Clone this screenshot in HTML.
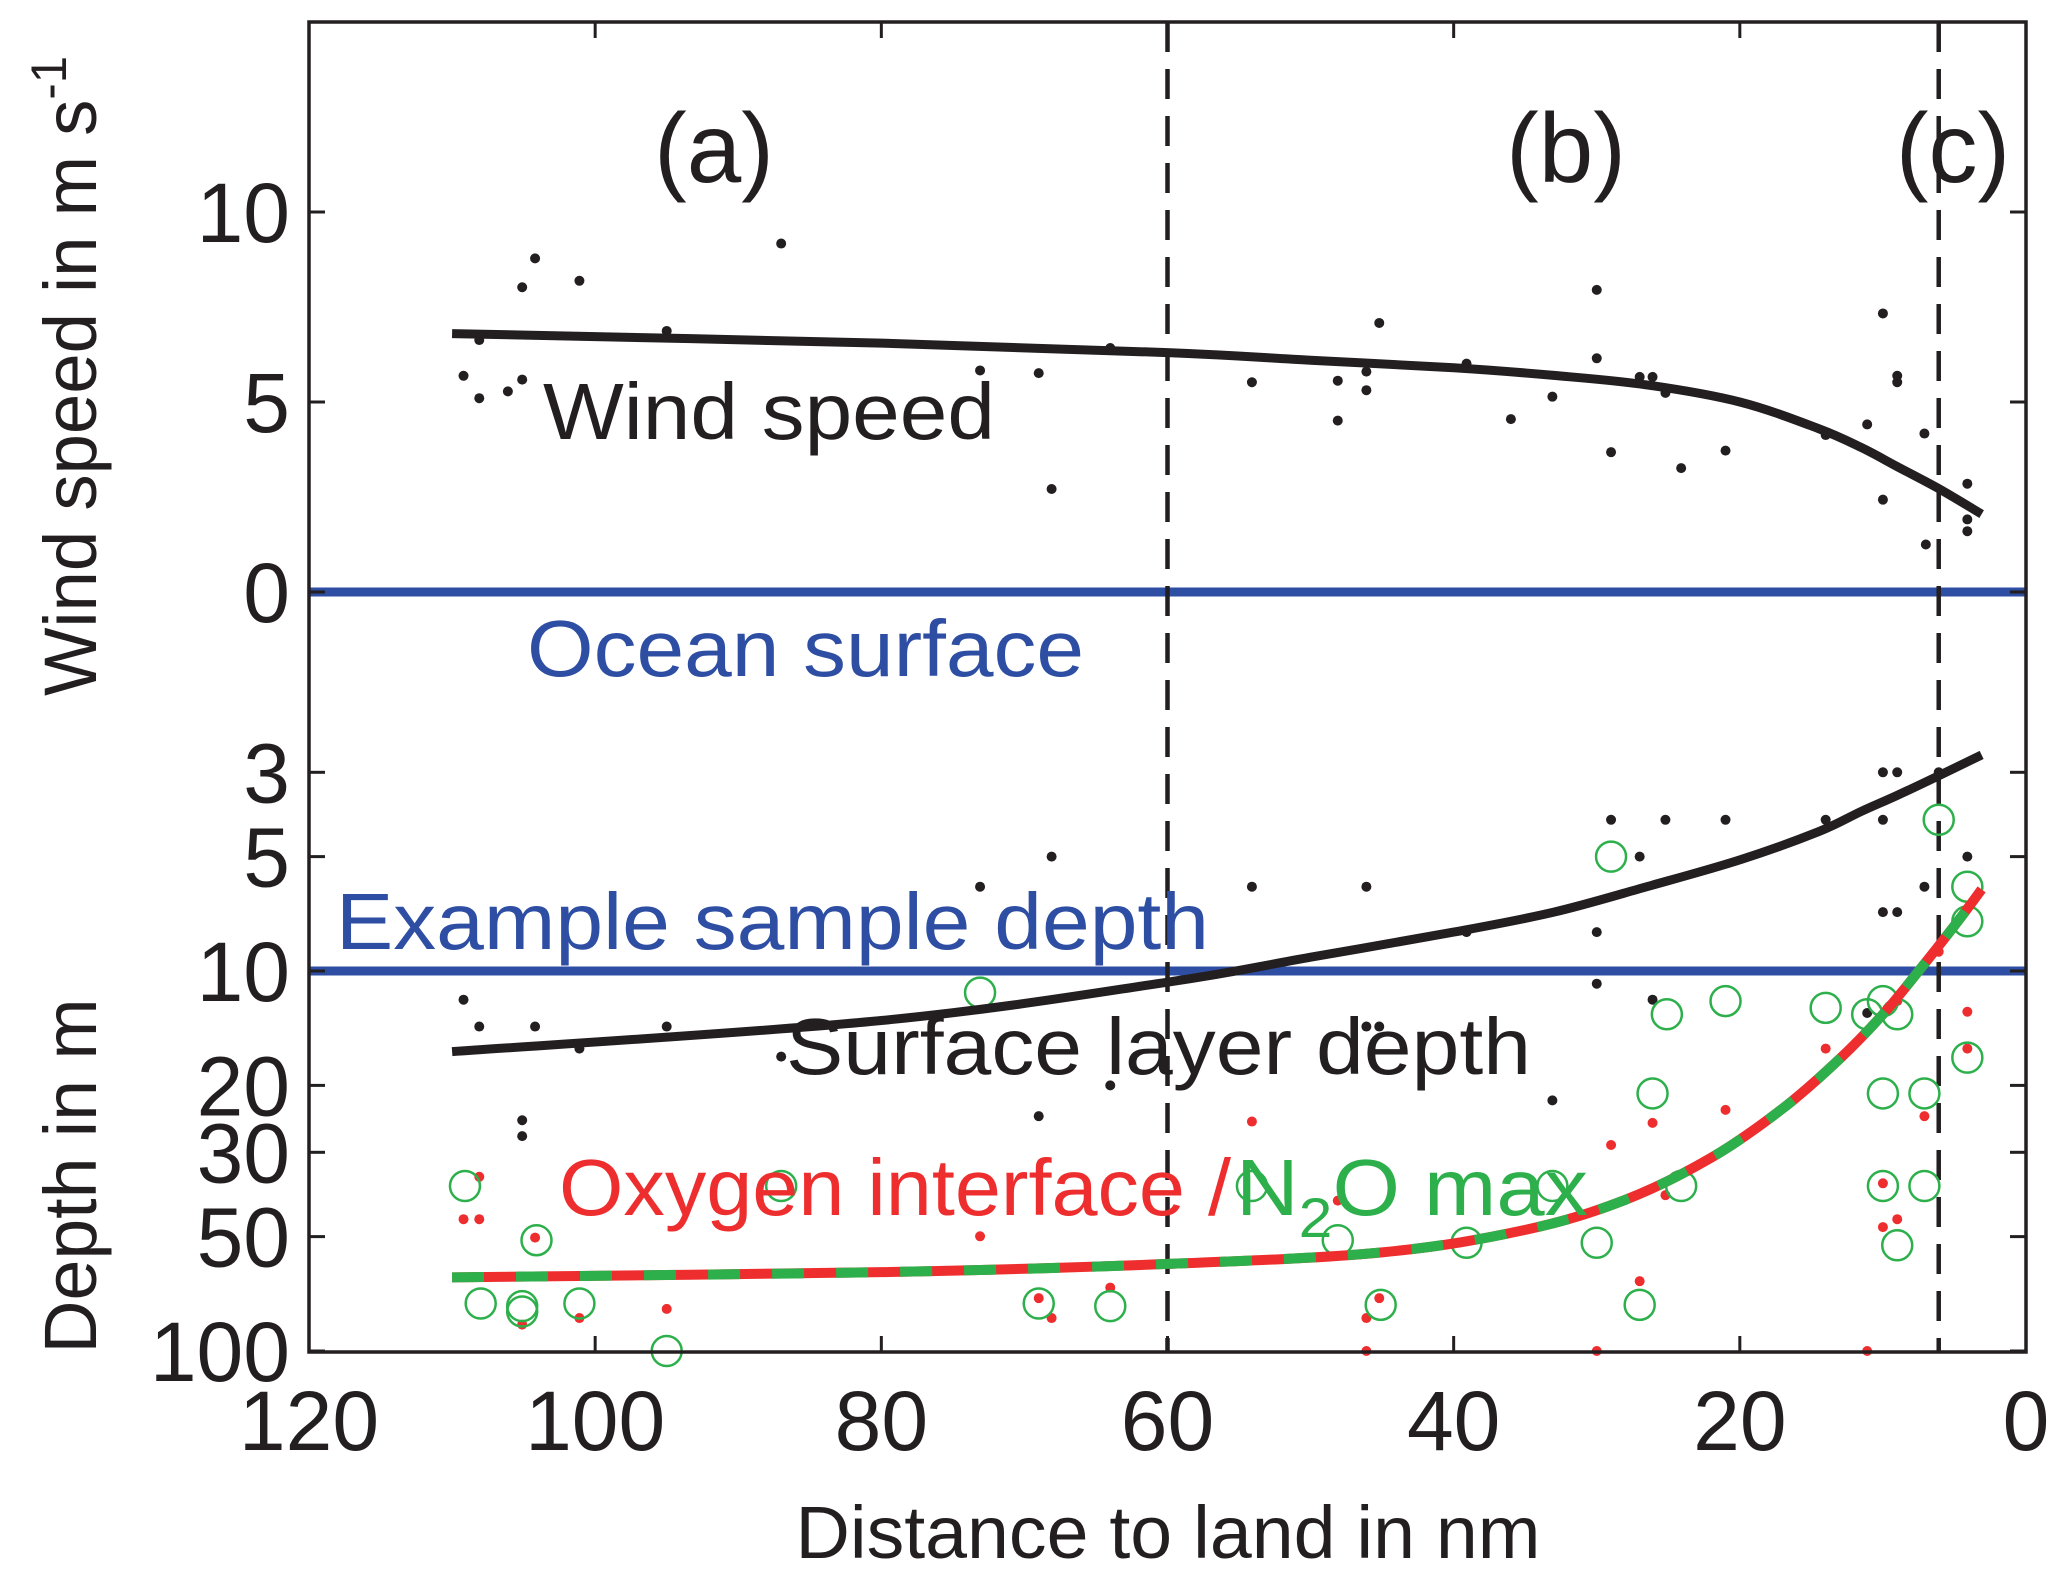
<!DOCTYPE html>
<html><head><meta charset="utf-8"><style>
html,body{margin:0;padding:0;background:#fff;}
svg{display:block;font-family:"Liberation Sans",Arial,sans-serif;}
</style></head><body>
<svg id="chart" width="2067" height="1582" viewBox="0 0 2067 1582" xmlns="http://www.w3.org/2000/svg">
<g id="marks"></g>
<g id="frame"></g>
<g id="labels">
<text x="714" y="182" font-size="98" text-anchor="middle" fill="#231f20">(a)</text>
<text x="1566" y="182" font-size="98" text-anchor="middle" fill="#231f20">(b)</text>
<text x="1953" y="182" font-size="98" text-anchor="middle" fill="#231f20">(c)</text>
<text x="543" y="439" font-size="80" textLength="452" lengthAdjust="spacingAndGlyphs" fill="#231f20">Wind speed</text>
<text x="527" y="676" font-size="80" textLength="557" lengthAdjust="spacingAndGlyphs" fill="#2e4ea3">Ocean surface</text>
<text x="336" y="949" font-size="80" textLength="873" lengthAdjust="spacingAndGlyphs" fill="#2e4ea3">Example sample depth</text>
<text x="786" y="1074" font-size="80" textLength="745" lengthAdjust="spacingAndGlyphs" fill="#231f20">Surface layer depth</text>
<text x="559" y="1215" font-size="80" textLength="672" lengthAdjust="spacingAndGlyphs" fill="#ee2e2e">Oxygen interface /</text>
<text x="1236" y="1215" font-size="80" fill="#2db04b" textLength="352" lengthAdjust="spacingAndGlyphs">N<tspan font-size="56" dy="22">2</tspan><tspan dy="-22">O max</tspan></text>
<text transform="translate(96,376) rotate(-90)" font-size="74" text-anchor="middle" textLength="640" lengthAdjust="spacingAndGlyphs" fill="#231f20">Wind speed in m s<tspan font-size="50" dy="-30">-1</tspan></text>
<text transform="translate(96,1176) rotate(-90)" font-size="74" text-anchor="middle" textLength="355" lengthAdjust="spacingAndGlyphs" fill="#231f20">Depth in m</text>
<text x="1168" y="1558" font-size="74" text-anchor="middle" textLength="745" lengthAdjust="spacingAndGlyphs" fill="#231f20">Distance to land in nm</text>
</g>
</svg>
<script>
// ---- data ----
const xTicks = [120,100,80,60,40,20,0];
const windTicks = [0,5,10];
const depthTicks = [3,5,10,20,30,50,100];
const regionBounds = [60, 6.1];
const windFitX = [110,80,60,50,40,33,26.5,20,14.5,11.5,9,6,3.1];
const windFitY = [6.8,6.55,6.3,6.1,5.9,5.7,5.45,5.0,4.3,3.8,3.3,2.7,2.05];
const windDotX = [109.2,108.1,108.1,106.1,105.1,105.1,104.2,101.1,95.0,87.0,73.1,69.0,68.1,64.0,54.1,48.1,48.1,46.1,46.1,45.2,39.1,36.0,33.1,30.0,30.0,29.0,27.0,26.1,25.2,24.1,21.0,14.0,11.1,10.0,10.0,9.0,9.0,7.1,7.0,4.1,4.1,4.1];
const windDotY = [5.69,6.63,5.10,5.28,8.02,5.59,8.78,8.19,6.87,9.17,5.83,5.76,2.71,6.42,5.52,5.56,4.51,5.80,5.31,7.08,6.01,4.55,5.14,7.95,6.15,3.68,5.66,5.66,5.24,3.26,3.72,4.13,4.41,7.33,2.43,5.69,5.52,4.17,1.25,2.85,1.91,1.60];
const sldFitX = [110,80,60,50,40,33,26.5,20,14.5,11.5,9,6,3.1];
const sldFitY = [16.3,13.5,10.7,9.2,7.9,7.0,6.0,5.1,4.3,3.8,3.45,3.05,2.7];
const sldDotX = [109.2,108.1,104.2,101.1,95.0,87.0,73.1,69.0,68.1,64.0,54.1,46.1,46.1,45.2,39.1,33.1,30.0,30.0,29.0,27.0,26.1,25.2,21.0,14.0,11.1,10.0,10.0,10.0,9.0,9.0,7.1,6.1,4.1,105.1,105.1];
const sldDotY = [11.9,14.0,14.0,16.0,14.0,16.8,6.0,24.1,5.0,20.0,6.0,6.0,14.0,14.0,7.9,21.9,7.9,10.8,4.0,5.0,11.9,4.0,4.0,4.0,12.9,3.0,4.0,7.0,3.0,7.0,6.0,3.0,5.0,24.7,27.2];
const oxyFitX = [110,80,60,45,35,28,22,17,13,10,7.5,5,3.1];
const oxyFitY = [64,62,59,55,48,40,31,23,17,13,10,7.6,6.1];
const redDotX = [108.1,109.2,108.1,104.2,105.1,101.1,95.0,73.1,69.0,68.1,64.0,54.1,48.1,46.1,46.1,45.2,30.0,29.0,27.0,26.1,25.2,21.0,14.0,11.1,10.0,10.0,9.0,7.1,6.1,4.1,4.1,10.0,9.0];
const redDotY = [34.8,45.0,45.0,50.3,85.2,81.9,77.5,49.9,72.6,81.9,68.1,24.9,40.2,81.9,100,72.6,100,28.7,65.5,25.1,38.9,23.2,16.0,100,36.2,47.2,45.0,24.1,8.9,12.8,16.0,13.0,12.0];
const greenX = [109.1,108.0,105.1,105.1,104.1,101.1,95.0,87.0,73.1,69.0,64.0,54.1,48.1,45.1,39.1,33.1,30.0,29.0,27.0,26.1,25.1,24.1,21.0,14.0,10.0,10.0,10.0,9.0,9.0,7.1,7.1,6.1,4.1,4.1,4.1,11.1];
const greenY = [36.8,75.0,76.2,78.7,51.1,75.0,100,36.8,11.4,75.0,76.2,36.8,51.1,75.6,51.9,36.8,51.9,5.0,75.6,21.0,13.0,36.8,12.0,12.5,12.0,21.0,36.8,13.0,52.7,21.0,36.8,4.0,6.0,7.4,16.9,13.0];
const sampleDepth = 10;

// ---- axes ----
const L=309,R=2026,T=22,B=1352;
const sx = v => R - (R-L)*v/120;
const sw = v => 592 - 38*v;
const sd = v => 971 + 380*(Math.log10(v)-1);
const NS="http://www.w3.org/2000/svg";
const marks=document.getElementById('marks'), frame=document.getElementById('frame');
function mk(tag, attrs, parent){const e=document.createElementNS(NS,tag);for(const k in attrs)e.setAttribute(k,attrs[k]);parent.appendChild(e);return e;}
function smoothPath(xs,ys,fy){
  const p=xs.map((x,i)=>[sx(x),fy(ys[i])]);let d='M'+p[0][0]+','+p[0][1];
  for(let i=0;i<p.length-1;i++){const p0=p[i-1]||p[i],p1=p[i],p2=p[i+1],p3=p[i+2]||p2;
    d+=' C'+(p1[0]+(p2[0]-p0[0])/6)+','+(p1[1]+(p2[1]-p0[1])/6)+' '+(p2[0]-(p3[0]-p1[0])/6)+','+(p2[1]-(p3[1]-p1[1])/6)+' '+p2[0]+','+p2[1];}
  return d;}

let e;
e=mk('line',{x1:L,x2:R,y1:sw(0),y2:sw(0),stroke:'#2e4ea3','stroke-width':9},marks);


e=mk('line',{x1:L,x2:R,y1:sd(sampleDepth),y2:sd(sampleDepth),stroke:'#2e4ea3','stroke-width':9},marks);


regionBounds.forEach(v=>{
  const l=mk('line',{x1:sx(v),x2:sx(v),y1:T,y2:B,stroke:'#231f20','stroke-width':4.5,'stroke-dasharray':'30 17'},marks);
  
  
});
windDotX.forEach((x,i)=>{const c=mk('circle',{cx:sx(x),cy:sw(windDotY[i]),r:5,fill:'#231f20'},marks);
  
  });
sldDotX.forEach((x,i)=>{const c=mk('circle',{cx:sx(x),cy:sd(sldDotY[i]),r:5,fill:'#231f20'},marks);
  
  });
redDotX.forEach((x,i)=>{const c=mk('circle',{cx:sx(x),cy:sd(redDotY[i]),r:5,fill:'#ee2e2e'},marks);
  
  });
greenX.forEach((x,i)=>{const c=mk('circle',{cx:sx(x),cy:sd(greenY[i]),r:15,fill:'none',stroke:'#2db04b','stroke-width':2.5},marks);
  
  });
e=mk('path',{d:smoothPath(windFitX,windFitY,sw),fill:'none',stroke:'#231f20','stroke-width':9},marks);


e=mk('path',{d:smoothPath(sldFitX,sldFitY,sd),fill:'none',stroke:'#231f20','stroke-width':9},marks);


e=mk('path',{d:smoothPath(oxyFitX,oxyFitY,sd),fill:'none',stroke:'#ee2e2e','stroke-width':10},marks);


e=mk('path',{d:smoothPath(oxyFitX,oxyFitY,sd),fill:'none',stroke:'#2db04b','stroke-width':10,'stroke-dasharray':'32 32'},marks);



e=mk('rect',{x:L,y:T,width:R-L,height:B-T,fill:'none',stroke:'#231f20','stroke-width':3.5},frame);


xTicks.forEach(v=>{
  mk('line',{x1:sx(v),x2:sx(v),y1:B,y2:B-16,stroke:'#231f20','stroke-width':3},frame);
  mk('line',{x1:sx(v),x2:sx(v),y1:T,y2:T+16,stroke:'#231f20','stroke-width':3},frame);
  const t=mk('text',{x:sx(v),y:1450,'font-size':84,'text-anchor':'middle',fill:'#231f20'},frame);
  t.textContent=v;
  
  
});
function yt(y,v){
  mk('line',{x1:L,x2:L+16,y1:y,y2:y,stroke:'#231f20','stroke-width':3},frame);
  mk('line',{x1:R,x2:R-16,y1:y,y2:y,stroke:'#231f20','stroke-width':3},frame);
  const t=mk('text',{x:290,y:y+30,'font-size':84,'text-anchor':'end',fill:'#231f20'},frame);
  t.textContent=v;
  
  
}
windTicks.forEach(v=>yt(sw(v),v));
depthTicks.forEach(v=>yt(sd(v),v));
</script>
</body></html>
